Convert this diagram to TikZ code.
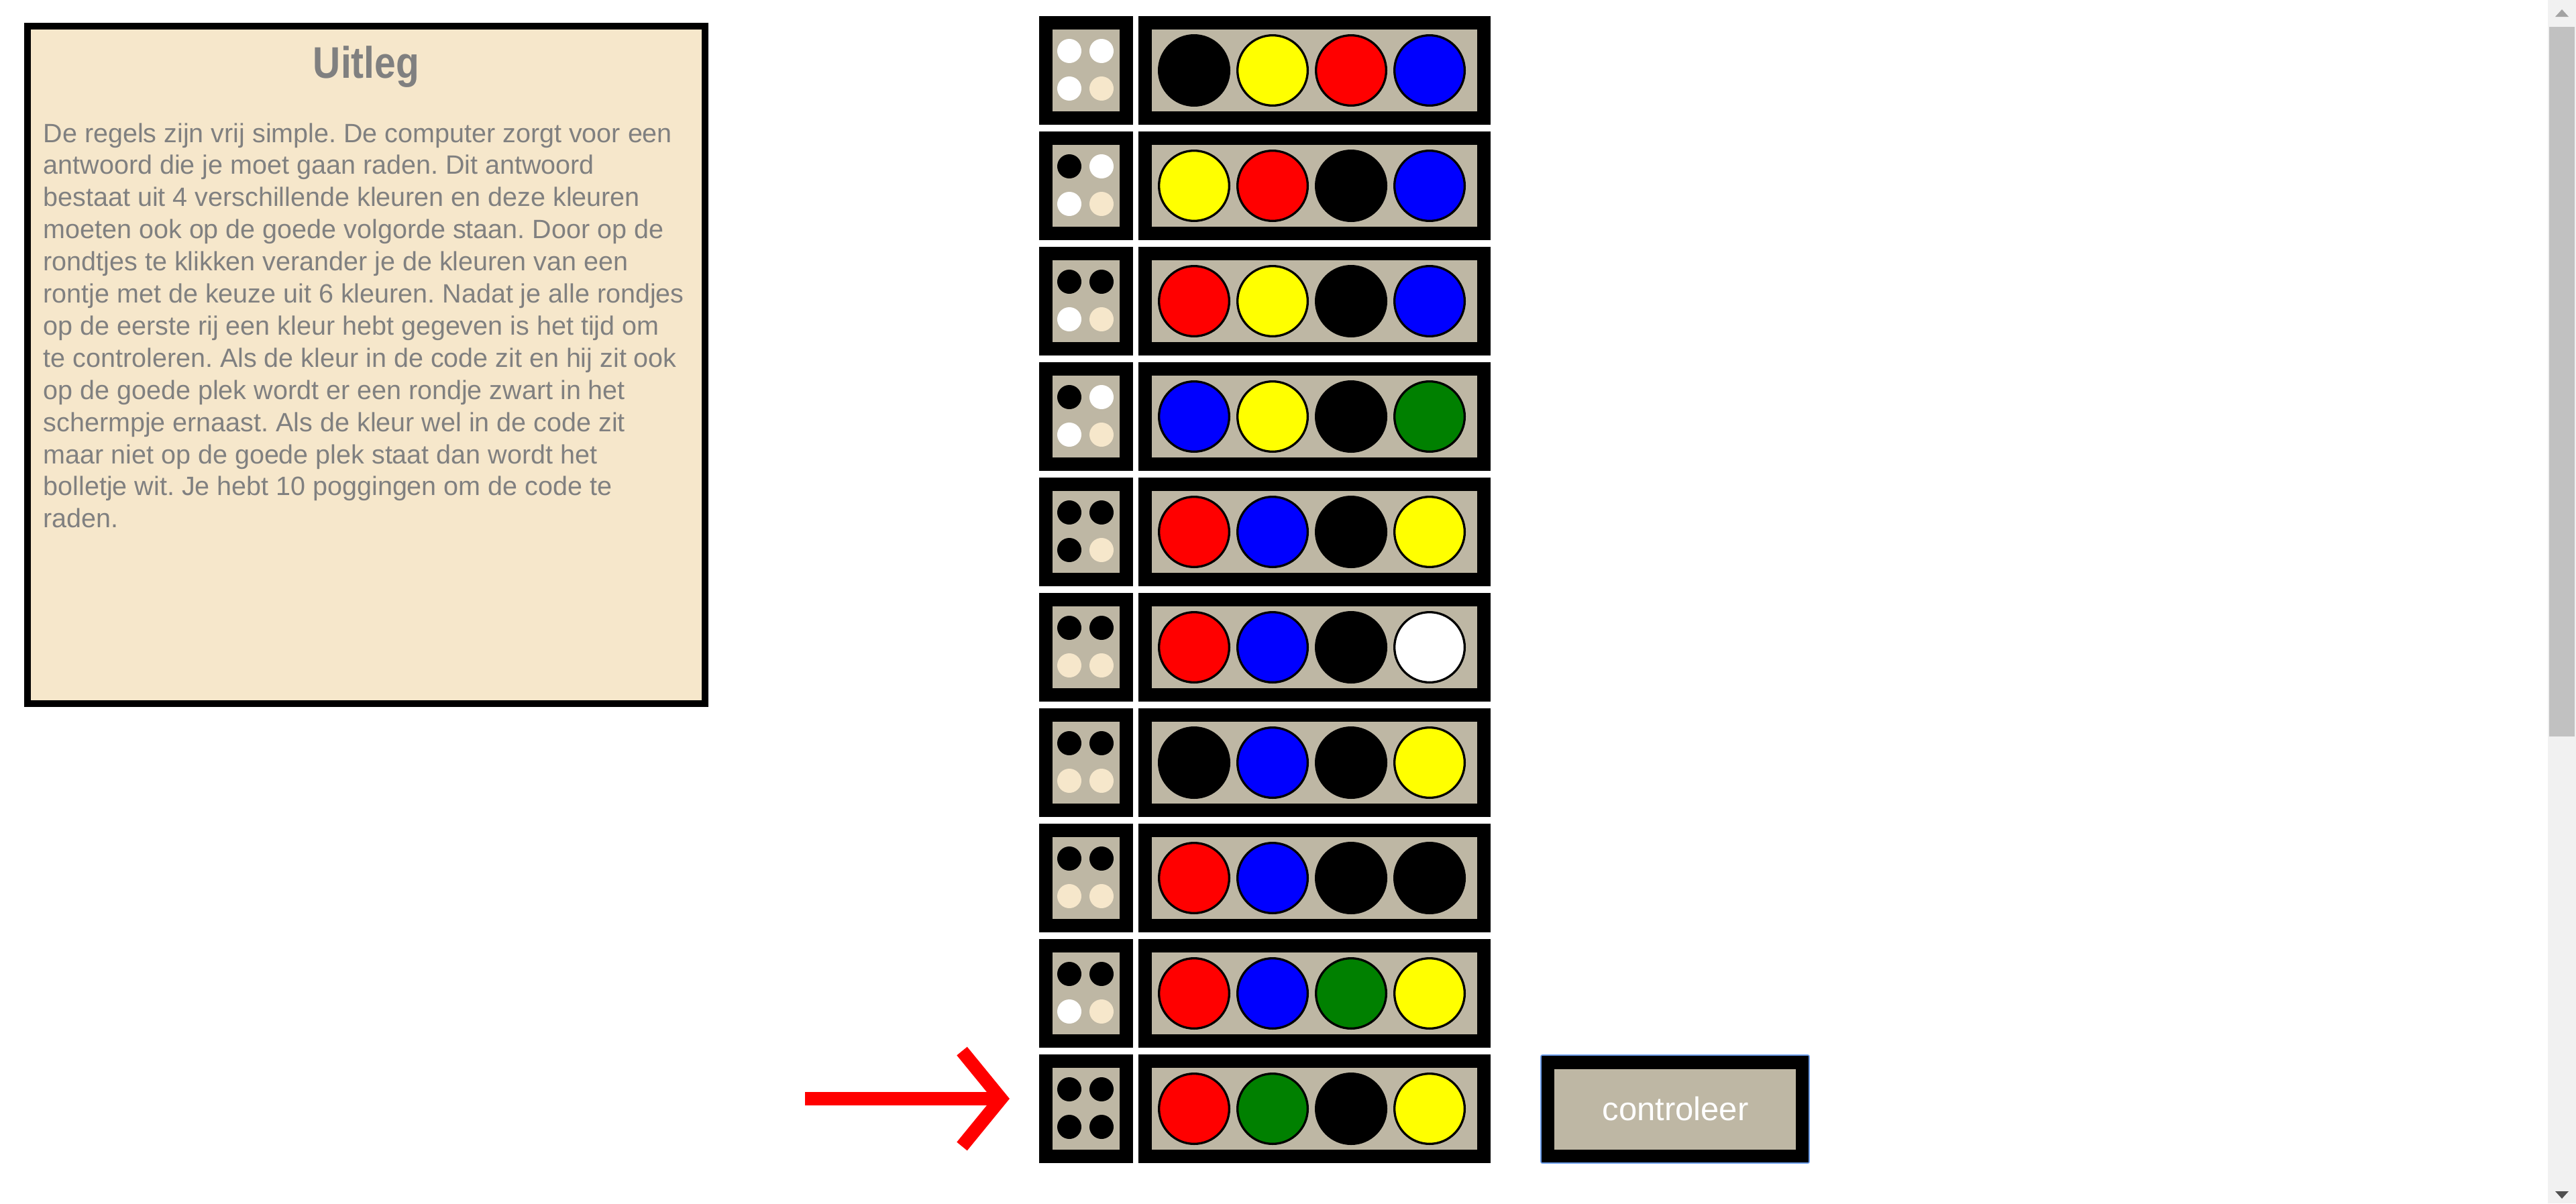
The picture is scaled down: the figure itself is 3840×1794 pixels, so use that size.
\documentclass[tikz,border=0pt]{standalone}
\usepackage{graphicx}
\usepackage{fontspec}
\setmainfont{Liberation Sans}
\frenchspacing
\definecolor{boxfill}{HTML}{F6E7CB}
\definecolor{board}{HTML}{BEB7A4}
\definecolor{textgray}{HTML}{808080}
\definecolor{hw}{HTML}{FFFFFF}
\definecolor{hb}{HTML}{000000}
\colorlet{he}{boxfill}
\definecolor{pgreen}{HTML}{008000}
\definecolor{pblue}{HTML}{0000FF}
\definecolor{pred}{HTML}{FF0000}
\definecolor{pyellow}{HTML}{FFFF00}
\definecolor{pwhite}{HTML}{FFFFFF}
\definecolor{pblack}{HTML}{000000}
\definecolor{btnblue}{HTML}{6D9EEB}
\definecolor{arrowred}{HTML}{FF0000}
\definecolor{track}{HTML}{F1F1F1}
\definecolor{thumb}{HTML}{C1C1C1}
\definecolor{uparrow}{HTML}{A3A3A3}
\definecolor{downarrow}{HTML}{505050}
\tikzset{
  bodyline/.style={anchor=base west, inner sep=0pt, text=textgray, font=\fontsize{39.5}{47.9}\selectfont},
  bigpeg/.style={draw=black, line width=3.3pt},
}
\begin{document}
\begin{tikzpicture}[x=1pt,y=-1pt]
\useasboundingbox[fill=white] (0,0) rectangle (3840,1794);

% explanation box
\fill[black] (36,34) rectangle (1056,1054);
\fill[boxfill] (46,44) rectangle (1046,1044);
\node[anchor=base, inner sep=0pt, text=textgray, font=\fontsize{66}{70}\selectfont\bfseries] (title) at (546,116) {\scalebox{0.862}[1]{Uitleg}};
\foreach \t [count=\i] in {
 De regels zijn vrij simple. De computer zorgt voor een,
 antwoord die je moet gaan raden. Dit antwoord,
 bestaat uit 4 verschillende kleuren en deze kleuren,
 moeten ook op de goede volgorde staan. Door op de,
 rondtjes te klikken verander je de kleuren van een,
 rontje met de keuze uit 6 kleuren. Nadat je alle rondjes,
 op de eerste rij een kleur hebt gegeven is het tijd om,
 te controleren. Als de kleur in de code zit en hij zit ook,
 op de goede plek wordt er een rondje zwart in het,
 schermpje ernaast. Als de kleur wel in de code zit,
 maar niet op de goede plek staat dan wordt het,
 bolletje wit. Je hebt 10 poggingen om de code te,
 raden.}
 \node[bodyline] (line\i) at (64.5,{212+47.9*(\i-1)}) {\t};

% board
\foreach \ha/\hb/\hc/\hd/\pa/\pb/\pc/\pd [count=\i from 0] in {
 hw/hw/hw/he/pblack/pyellow/pred/pblue,
 hb/hw/hw/he/pyellow/pred/pblack/pblue,
 hb/hb/hw/he/pred/pyellow/pblack/pblue,
 hb/hw/hw/he/pblue/pyellow/pblack/pgreen,
 hb/hb/hb/he/pred/pblue/pblack/pyellow,
 hb/hb/he/he/pred/pblue/pblack/pwhite,
 hb/hb/he/he/pblack/pblue/pblack/pyellow,
 hb/hb/he/he/pred/pblue/pblack/pblack,
 hb/hb/hw/he/pred/pblue/pgreen/pyellow,
 hb/hb/hb/hb/pred/pgreen/pblack/pyellow}
{
 \pgfmathsetmacro\tp{24+172*\i}
 % hint box
 \fill[black] (1549,\tp) rectangle (1689,{\tp+162});
 \fill[board] (1569,{\tp+20}) rectangle (1669,{\tp+142});
 \fill[\ha] (1594,{\tp+52}) circle[radius=18pt];
 \fill[\hb] (1642,{\tp+52}) circle[radius=18pt];
 \fill[\hc] (1594,{\tp+108}) circle[radius=18pt];
 \fill[\hd] (1642,{\tp+108}) circle[radius=18pt];
 % guess box
 \fill[black] (1697,\tp) rectangle (2222,{\tp+162});
 \fill[board] (1717,{\tp+20}) rectangle (2202,{\tp+142});
 \filldraw[bigpeg, fill=\pa] (1780,{\tp+81}) circle[radius=52.35pt];
 \filldraw[bigpeg, fill=\pb] (1897,{\tp+81}) circle[radius=52.35pt];
 \filldraw[bigpeg, fill=\pc] (2014,{\tp+81}) circle[radius=52.35pt];
 \filldraw[bigpeg, fill=\pd] (2131,{\tp+81}) circle[radius=52.35pt];
}

% arrow
\coordinate (arrowstart) at (1200,1638);
\coordinate (arrowtip) at (1492,1638);
\coordinate (headtop) at (1434,1567);
\coordinate (headbot) at (1434,1709);
\draw[arrowred, line width=20pt] (arrowstart) -- (arrowtip);
\draw[arrowred, line width=20pt, miter limit=10] (headtop) -- (arrowtip) -- (headbot);

% button
\fill[black] (2297,1573) rectangle (2697,1734);
\draw[btnblue, line width=1.6pt, rounded corners=2pt] (2297,1573) rectangle (2697,1734);
\fill[board] (2317,1594) rectangle (2677,1714);
\node[anchor=base, inner sep=0pt, text=white, font=\fontsize{49}{55}\selectfont] (btn) at (2497.5,1670) {controleer};

% scrollbar
\fill[track] (3798,0) rectangle (3840,1794);
\fill[thumb] (3800,40) rectangle (3838,1098);
\fill[uparrow] (3809,25) -- (3819,14) -- (3829,25) -- cycle;
\fill[downarrow] (3809,1776) -- (3819,1787) -- (3829,1776) -- cycle;
\end{tikzpicture}
\end{document}
